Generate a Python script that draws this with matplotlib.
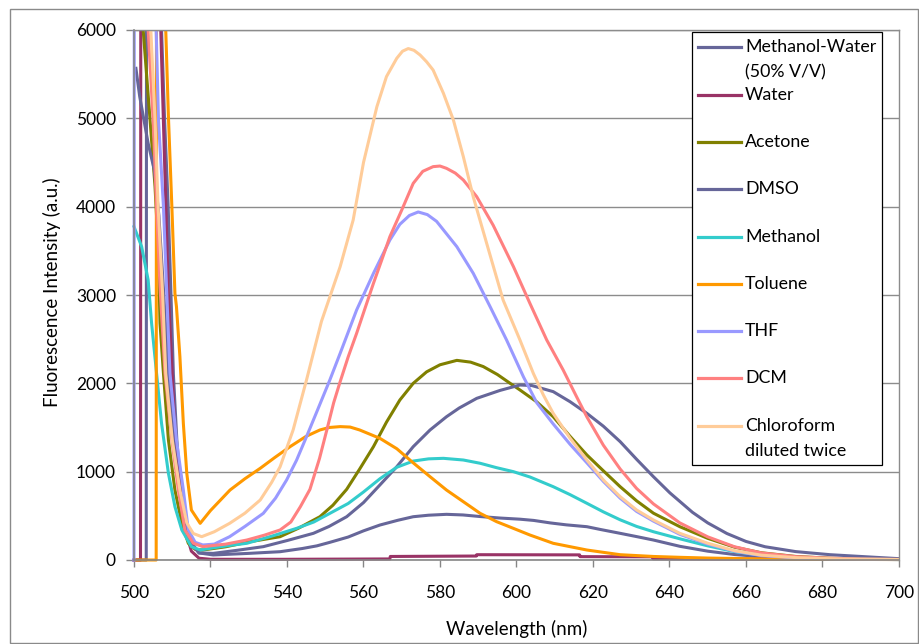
import matplotlib
matplotlib.use("Agg")
import matplotlib.pyplot as plt
from matplotlib.patches import Rectangle
from matplotlib.lines import Line2D
from matplotlib.transforms import Bbox, TransformedBbox

plt.rcParams['font.family'] = ['Lato', 'DejaVu Sans']

# ---- data -------------------------------------------------------------
OFF = 9000  # excitation scatter, far above the plotted range

series_names = ["Methanol-Water\n(50% V/V)", "Water", "Acetone", "DMSO", "Methanol",
                "Toluene", "THF", "DCM", "Chloroform\ndiluted twice"]
series_colors = ["#666699", "#993366", "#808000", "#666699", "#33CCCC",
                 "#FF9900", "#9999FF", "#FF8080", "#FFCC99"]

wl_mw = [500, 503.2, 503.3, 507.2, 508, 508.9, 509.6, 510.3, 511.2, 512.2, 513.5, 515, 517,
         520.7, 530, 538.2, 544, 547.8, 551.2, 556, 560, 564.3, 569, 573, 577, 581.7, 586,
         590.5, 595.7, 600.9, 604.5, 608.8, 613, 618.4, 622, 627.1, 631.4, 635.8, 642.7, 650,
         657, 664, 673, 682, 690, 700]
int_mw = [0, 0, OFF, 6000, 4981, 4038, 3100, 2100, 1358, 792, 400, 200, 80,
          57, 75, 94, 130, 160, 200, 260, 330, 396, 450, 490, 507, 517, 510,
          492, 475, 462, 448, 420, 398, 377, 345, 302, 265, 226, 155, 100,
          62, 38, 22, 13, 9, 6]

wl_water = [500, 501.7, 501.8, 507.0, 509, 511, 513, 515, 517, 520, 540, 566.9, 567, 589.5,
            589.6, 616.5, 616.6, 635.6, 635.7, 650, 700]
int_water = [0, 0, OFF, 6000, 3000, 1200, 400, 100, 20, 8, 8, 12, 40, 45,
             60, 58, 38, 36, 15, 12, 8]

wl_acetone = [500, 502.4, 504.2, 505.5, 506.4, 506.8, 507.7, 509, 510.7, 512.5, 514.2, 516, 518,
              524, 530.3, 538.2, 543, 548.6, 552, 555.6, 559, 562.6, 566, 569.5, 573, 576.5,
              580, 584.4, 588, 591.3, 595, 598, 600.9, 605.3, 609.6, 614, 618.4, 622.7,
              627.1, 631.4, 635.8, 642.7, 650, 657, 664, 673, 682, 690, 700]
int_acetone = [OFF, 6000, 4981, 4226, 3472, 2680, 2113, 1358, 792, 415, 189, 120, 113,
               150, 207, 264, 360, 490, 620, 800, 1030, 1283, 1560, 1811, 2000, 2130,
               2210, 2260, 2240, 2190, 2100, 2010, 1925, 1790, 1622, 1400, 1189, 1010,
               830, 670, 530, 377, 245, 145, 82, 40, 20, 11, 6]

wl_dmso = [500.5, 501.5, 503.7, 505.3, 506.5, 507.8, 509, 510.3, 511.8, 513.3, 515, 517, 520.7,
           527, 533.8, 540, 546.9, 551, 555.6, 560, 564.3, 568.7, 573, 577.4, 581.7, 585,
           589.6, 595.7, 600.9, 604, 609.6, 614, 618.4, 622.7, 627.1, 631.4, 635.8, 640.1,
           646, 650, 655, 660, 665, 673, 682, 690, 700]
int_dmso = [5566, 5245, 4717, 4415, 3900, 3000, 2100, 1358, 792, 400, 180, 80, 75,
            110, 151, 220, 302, 380, 490, 650, 850, 1056, 1283, 1472, 1622, 1720,
            1830, 1920, 1981, 1975, 1906, 1792, 1660, 1515, 1340, 1140, 943, 760,
            540, 420, 300, 210, 150, 95, 60, 40, 15]

wl_methanol = [500, 502, 503.7, 504.6, 505.9, 507.2, 509, 510.7, 512.5, 515, 517.3, 521, 525,
               529.5, 536, 542.5, 547, 551.2, 556, 560, 564.3, 568.7, 573, 577, 580.9, 586.1,
               590.5, 594.8, 599.2, 603.5, 609.6, 614, 618.4, 622.7, 627.1, 631.4, 635.8,
               642.7, 650, 657, 664, 673, 682, 690, 700]
int_methanol = [3774, 3547, 3170, 2680, 2113, 1547, 981, 604, 340, 151, 113, 140, 165,
                189, 270, 358, 430, 528, 640, 770, 920, 1050, 1120, 1145, 1151, 1132,
                1095, 1045, 1000, 940, 830, 740, 642, 545, 455, 380, 320,
                240, 160, 95, 55, 28, 15, 9, 5]

wl_toluene = [500.5, 505.8, 505.9, 508.3, 509, 509.9, 510.7, 511.1, 512, 512.9, 513.8, 515,
              517.3, 520, 525.1, 529, 533, 536.8, 540.8, 545, 548.6, 551, 553.9, 556.5, 559,
              564.3, 568.7, 573, 577.4, 581.7, 586.1, 590.5, 594.8, 599.2, 603.5, 609.6,
              618.4, 627.1, 635.8, 643, 650, 660, 670, 680, 700]
int_toluene = [0, 0, OFF, 6000, 5019, 4000, 3019, 2868, 2302, 1547, 981, 566,
               415, 560, 792, 920, 1038, 1160, 1283, 1400, 1472, 1500, 1510, 1505, 1472,
               1377, 1260, 1100, 943, 792, 660, 528, 434, 358, 283, 189,
               113, 60, 40, 30, 22, 15, 10, 8, 5]

wl_thf = [500, 500.1, 505.8, 506.4, 507.7, 508.5, 509.4, 511.1, 512.9, 514.2, 516, 518, 521,
          525, 529, 533.8, 537, 539.9, 542.5, 545.1, 548, 551.2, 553.9, 558.2, 562.6, 566.9,
          569.5, 572, 574.3, 576.7, 579.1, 584.4, 588.7, 593.1, 597.4, 601.8, 605.3, 609.6,
          614, 618.4, 622.7, 627.1, 631.4, 635.8, 642.7, 650, 657, 664, 673, 682, 690, 700]
int_thf = [0, OFF, 6000, 4981, 4000, 3094, 2113, 1358, 792, 340, 200, 170, 180,
           264, 380, 528, 700, 906, 1130, 1396, 1700, 2038, 2340, 2830, 3245, 3623,
           3800, 3900, 3940, 3910, 3834, 3547, 3245, 2868, 2491, 2075, 1780, 1540,
           1310, 1100, 890, 700, 550, 440, 290, 180, 100, 50, 24, 13, 8, 5]

wl_dcm = [500, 503.7, 505, 505.9, 506.8, 508.1, 509.9, 511.6, 513.3, 515.5, 518, 524, 529.5,
          534, 538.2, 541, 543.5, 546, 548.5, 550.4, 552.2, 553.9, 556, 558.2, 560.4, 562.6,
          564.8, 566.9, 570, 573, 575.5, 578.2, 580, 581.7, 584, 586.1, 589.6, 593.9, 599.2,
          603.5, 607.9, 612.2, 615.7, 618.4, 622.7, 627.1, 631.4, 635.8, 642.7, 650, 657,
          664, 673, 682, 690, 700]
int_dcm = [OFF, 6000, 4981, 4000, 3094, 2113, 1358, 792, 340, 190, 151, 180, 226,
           280, 340, 430, 604, 800, 1150, 1470, 1780, 2019, 2300, 2566, 2850, 3132,
           3400, 3661, 3962, 4264, 4400, 4453, 4460, 4434, 4380, 4302, 4113, 3790, 3321,
           2906, 2491, 2151, 1849, 1620, 1300, 1030, 810, 635, 420, 262, 150,
           80, 38, 20, 11, 6]

wl_chcl3 = [500, 504.4, 505.5, 506.3, 507.5, 508.3, 510, 512, 513.8, 515.5, 517.7, 521, 525,
            529, 533, 536, 538.2, 541.6, 545.1, 549, 553.9, 557.3, 560, 563.5, 566, 568.7,
            570.2, 571.7, 573.2, 574.8, 576.5, 578.2, 580.9, 583.5, 586.1, 588.7, 592.2,
            596.5, 600.9, 604.4, 607, 609.6, 614, 618.4, 622.7, 627.1, 631.4, 635.8, 642.7,
            650, 657, 664, 673, 682, 690, 700]
int_chcl3 = [OFF, 6000, 4981, 4000, 3000, 2113, 1358, 792, 420, 300, 264, 320, 415,
             530, 679, 880, 1056, 1472, 2038, 2700, 3321, 3849, 4500, 5132, 5472, 5680,
             5760, 5790, 5770, 5717, 5640, 5547, 5283, 4981, 4566, 4110, 3585,
             2943, 2491, 2113, 1870, 1660, 1380, 1132, 906, 717, 566, 453, 302,
             190, 105, 55, 27, 15, 9, 6]

series_wl = [wl_mw, wl_water, wl_acetone, wl_dmso, wl_methanol, wl_toluene, wl_thf, wl_dcm, wl_chcl3]
series_int = [int_mw, int_water, int_acetone, int_dmso, int_methanol, int_toluene, int_thf, int_dcm, int_chcl3]

x_ticks = list(range(500, 701, 20))
y_ticks = list(range(0, 6001, 1000))

# ---- figure -----------------------------------------------------------
W, H = 920, 644
fig = plt.figure(figsize=(W / 100, H / 100), dpi=100)
fig.patch.set_facecolor("white")


def fx(px):
    return px / W


def fy(py):
    return 1 - py / H


# chart frame
fig.patches.append(Rectangle((fx(10), fy(643)), fx(908), 634 / H, transform=fig.transFigure,
                             fill=False, edgecolor="#8a8a8a", lw=1.0, zorder=0))

ax = fig.add_axes([fx(134), fy(560), fx(899 - 134), (560 - 30) / H])
ax.set_xlim(500, 700)
ax.set_ylim(0, 6000)

grid_c = "#8c8c8c"
ax.set_yticks(y_ticks)
ax.set_xticks(x_ticks)
ax.yaxis.grid(True, color=grid_c, lw=1.0)
ax.set_axisbelow(True)
for s in ["left", "bottom"]:
    ax.spines[s].set_color("#868686")
    ax.spines[s].set_linewidth(1.2)
for s in ["top", "right"]:
    ax.spines[s].set_color(grid_c)
    ax.spines[s].set_linewidth(1.0)
ax.tick_params(axis="x", direction="out", length=5, width=1, color="#868686",
               pad=13, labelsize=12.5, labelcolor="black")
ax.tick_params(axis="y", direction="out", length=6, width=1, color="#868686",
               pad=7, labelsize=12.5, labelcolor="black")

# lines may spill a little past the left/bottom frame, as the scatter spikes do
clip = TransformedBbox(Bbox([[-0.004, -0.006], [1.0, 1.0]]), ax.transAxes)
for wl, it, col in zip(series_wl, series_int, series_colors):
    ln, = ax.plot(wl, it, color=col, lw=2.2, solid_joinstyle="round")
    ln.set_clip_box(clip)

fig.text(fx(517), fy(629), "Wavelength (nm)", ha="center", va="center", fontsize=13.5)
fig.text(fx(52), fy(292), "Fluorescence Intensity (a.u.)", ha="center", va="center",
         rotation=90, fontsize=13.5)

# ---- legend -------------------------------------------------------------
fig.patches.append(Rectangle((fx(692), fy(465)), fx(882 - 692), (465 - 32) / H,
                             transform=fig.transFigure, facecolor="white",
                             edgecolor="black", lw=0.9, zorder=5))
for i, (name, col) in enumerate(zip(series_names, series_colors)):
    yc = 47.3 + 47.3 * i
    fig.lines.append(Line2D([fx(698), fx(741)], [fy(yc), fy(yc)], color=col, lw=2.3,
                            transform=fig.transFigure, zorder=6))
    for k, part in enumerate(name.split("\n")):
        fig.text(fx(745), fy(yc + 25.5 * k), part, ha="left", va="center",
                 fontsize=12.8, zorder=7)

fig.savefig("out.png", dpi=100)
